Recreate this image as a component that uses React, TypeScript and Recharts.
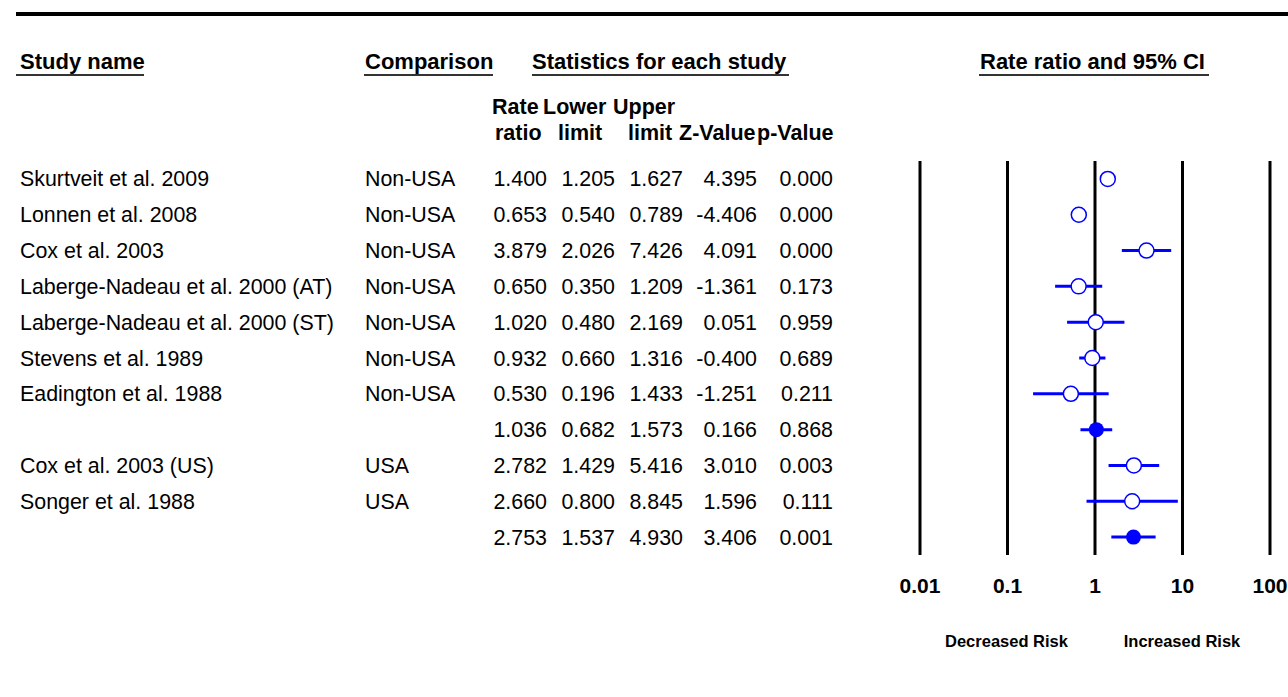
import { ErrorBar, ReferenceLine, Scatter, ScatterChart, XAxis, YAxis } from 'recharts';

const studyNames = [
  'Skurtveit et al. 2009',
  'Lonnen et al. 2008',
  'Cox et al. 2003',
  'Laberge-Nadeau et al. 2000 (AT)',
  'Laberge-Nadeau et al. 2000 (ST)',
  'Stevens et al. 1989',
  'Eadington et al. 1988',
  '',
  'Cox et al. 2003 (US)',
  'Songer et al. 1988',
  '',
];
const comparisons = [
  'Non-USA', 'Non-USA', 'Non-USA', 'Non-USA', 'Non-USA', 'Non-USA', 'Non-USA',
  '', 'USA', 'USA', '',
];
const rateRatios = [1.4, 0.653, 3.879, 0.65, 1.02, 0.932, 0.53, 1.036, 2.782, 2.66, 2.753];
const lowerLimits = [1.205, 0.54, 2.026, 0.35, 0.48, 0.66, 0.196, 0.682, 1.429, 0.8, 1.537];
const upperLimits = [1.627, 0.789, 7.426, 1.209, 2.169, 1.316, 1.433, 1.573, 5.416, 8.845, 4.93];
const zValues = [4.395, -4.406, 4.091, -1.361, 0.051, -0.4, -1.251, 0.166, 3.01, 1.596, 3.406];
const pValues = [0.0, 0.0, 0.0, 0.173, 0.959, 0.689, 0.211, 0.868, 0.003, 0.111, 0.001];
const summaryRows = [7, 10];
const axisTicks = [0.01, 0.1, 1, 10, 100];

const BLUE = '#0000ff';
const FONT = '"Liberation Sans", Arial, sans-serif';

const rows = rateRatios.map((rr, i) => ({
  row: i,
  rr,
  err: [rr - lowerLimits[i], upperLimits[i] - rr],
  summary: summaryRows.includes(i),
}));
const studyRows = rows.filter((r) => !r.summary);
const pooledRows = rows.filter((r) => r.summary);
const rowIndexes = rows.map((r) => r.row);

// right edges of the number columns
const numCols = [547, 615, 683, 757, 833];

const RowTick = (props: any) => {
  const { y, payload } = props;
  const i = Number(payload.value);
  const cells = [rateRatios[i], lowerLimits[i], upperLimits[i], zValues[i], pValues[i]];
  const base = y + 7.5;
  return (
    <g>
      <text x={20} y={base} fontFamily={FONT} fontSize={21.4} fill="#000">
        {studyNames[i]}
      </text>
      <text x={365} y={base} fontFamily={FONT} fontSize={21.4} fill="#000">
        {comparisons[i]}
      </text>
      {cells.map((c, k) => (
        <text
          key={k}
          x={numCols[k]}
          y={base}
          textAnchor="end"
          fontFamily={FONT}
          fontSize={21.4}
          fill="#000"
        >
          {c.toFixed(3)}
        </text>
      ))}
    </g>
  );
};

const AxisTick = ({ x, y, payload }: any) => (
  <text
    x={x}
    y={y}
    dy={29.5}
    textAnchor="middle"
    fontFamily={FONT}
    fontWeight="bold"
    fontSize={21}
    fill="#000"
  >
    {payload.value}
  </text>
);

const OpenDot = (p: any) => (
  <circle cx={p.cx} cy={p.cy} r={7.5} fill="#fff" stroke={BLUE} strokeWidth={1.5} />
);
const FilledDot = (p: any) => <circle cx={p.cx} cy={p.cy} r={7.5} fill={BLUE} />;

const headers = [
  { text: 'Study name', x: 20, x1: 16, x2: 144 },
  { text: 'Comparison', x: 365, x1: 364, x2: 493 },
  { text: 'Statistics for each study', x: 532, x1: 532, x2: 789 },
  { text: 'Rate ratio and 95% CI', x: 980, x1: 979, x2: 1209 },
];
const subTop = [
  { text: 'Rate', x: 492 },
  { text: 'Lower', x: 543 },
  { text: 'Upper', x: 613 },
];
const subBottom = [
  { text: 'ratio', x: 495 },
  { text: 'limit', x: 558 },
  { text: 'limit', x: 628 },
  { text: 'Z-Value', x: 679 },
  { text: 'p-Value', x: 757 },
];

export default function App() {
  return (
    <div style={{ position: 'relative', width: 1288, height: 697, background: '#fff' }}>
      <style>{'body{margin:0}'}</style>
      <ScatterChart
        width={1288}
        height={697}
        margin={{ top: 161, right: 18, bottom: 112, left: 880 }}
      >
        <XAxis
          type="number"
          dataKey="rr"
          scale="log"
          domain={[0.01, 100]}
          ticks={axisTicks}
          interval={0}
          allowDataOverflow
          axisLine={false}
          tickLine={false}
          height={30}
          tick={<AxisTick />}
        />
        <YAxis
          type="number"
          dataKey="row"
          domain={[-0.5, 10.5]}
          ticks={rowIndexes}
          interval={0}
          reversed
          width={40}
          axisLine={false}
          tickLine={false}
          tick={RowTick}
        />
        {axisTicks.map((t) => (
          <ReferenceLine key={t} x={t} stroke="#000" strokeWidth={3} />
        ))}
        <Scatter data={studyRows} shape={OpenDot} isAnimationActive={false}>
          <ErrorBar dataKey="err" direction="x" width={0} stroke={BLUE} strokeWidth={3} />
        </Scatter>
        <Scatter data={pooledRows} shape={FilledDot} isAnimationActive={false}>
          <ErrorBar dataKey="err" direction="x" width={0} stroke={BLUE} strokeWidth={3} />
        </Scatter>
      </ScatterChart>
      <svg
        width={1288}
        height={697}
        style={{ position: 'absolute', left: 0, top: 0, pointerEvents: 'none' }}
        fontFamily={FONT}
        fontWeight="bold"
        fill="#000"
      >
        <rect x={16} y={12} width={1272} height={4} fill="#000" />
        {headers.map((h) => (
          <g key={h.text}>
            <text x={h.x} y={69} fontSize={22}>
              {h.text}
            </text>
            <rect x={h.x1} y={74} width={h.x2 - h.x1} height={2} fill="#333" />
          </g>
        ))}
        {subTop.map((s) => (
          <text key={s.text} x={s.x} y={114} fontSize={21.5}>
            {s.text}
          </text>
        ))}
        {subBottom.map((s, i) => (
          <text key={i} x={s.x} y={140} fontSize={21.5}>
            {s.text}
          </text>
        ))}
        <text x={1006.5} y={646.5} fontSize={16.5} textAnchor="middle">
          Decreased Risk
        </text>
        <text x={1182} y={646.5} fontSize={16.5} textAnchor="middle">
          Increased Risk
        </text>
      </svg>
    </div>
  );
}
